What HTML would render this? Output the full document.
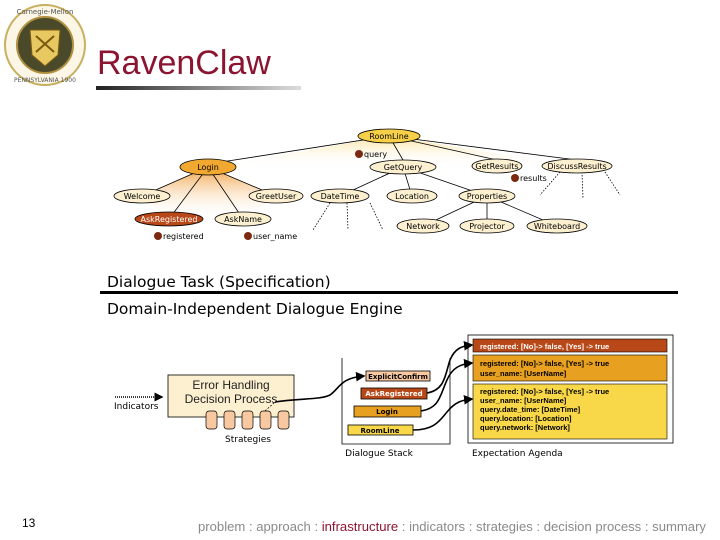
<!DOCTYPE html>
<html><head><meta charset="utf-8"><style>
html,body{margin:0;padding:0;background:#fff}
svg{display:block}
</style></head><body>
<svg width="720" height="540" viewBox="0 0 720 540" xmlns="http://www.w3.org/2000/svg" font-family="'DejaVu Sans', 'Liberation Sans', sans-serif">
<defs>
<linearGradient id="tl" x1="0" x2="1"><stop offset="0" stop-color="#222"/><stop offset="1" stop-color="#ddd"/></linearGradient>
<linearGradient id="fanO" x1="0" y1="0" x2="0" y2="1"><stop offset="0" stop-color="#f0a040"/><stop offset="1" stop-color="#fff" stop-opacity="0"/></linearGradient>
<linearGradient id="fanY" x1="0" y1="0" x2="0" y2="1"><stop offset="0" stop-color="#f8d060"/><stop offset="1" stop-color="#fff" stop-opacity="0"/></linearGradient>
<marker id="ah" markerWidth="6" markerHeight="6" refX="5" refY="3" orient="auto"><path d="M0,0 L6,3 L0,6z" fill="#000"/></marker>
</defs>
<!-- logo -->
<circle cx="45" cy="45" r="40" fill="#fbf6e6" stroke="#c8b060" stroke-width="2"/>
<circle cx="45" cy="45" r="28" fill="#4a4a2a" stroke="#b09040" stroke-width="2"/>
<path d="M30,30 L60,30 L58,55 L45,66 L32,55z" fill="#e8c860" stroke="#7a5a10"/>
<path d="M36,36 L54,52 M54,36 L36,52" stroke="#7a5a10" stroke-width="2"/>
<text x="45" y="14" font-size="7" text-anchor="middle" fill="#555">Carnegie-Mellon</text>
<text x="45" y="82" font-size="6" text-anchor="middle" fill="#555">PENNSYLVANIA 1900</text>
<!-- title -->
<text x="97" y="74" font-family="'Liberation Sans',sans-serif" font-size="34" fill="#8b1430">RavenClaw</text>
<rect x="96" y="86" width="205" height="4" fill="url(#tl)"/>
<!-- fans -->
<path d="M389,136 L215,167 L580,167z" fill="url(#fanY)" opacity="0.6"/>
<path d="M208,167 L142,196 L169,219 L243,219 L276,196z" fill="url(#fanO)"/>
<g stroke="#000" stroke-width="0.8" fill="none">
<line x1="389" y1="136" x2="215" y2="163"/>
<line x1="389" y1="136" x2="403" y2="160"/>
<line x1="389" y1="136" x2="497" y2="160"/>
<line x1="389" y1="136" x2="577" y2="160"/>
<line x1="208" y1="167" x2="142" y2="196"/>
<line x1="208" y1="167" x2="169" y2="219"/>
<line x1="208" y1="167" x2="243" y2="219"/>
<line x1="208" y1="167" x2="276" y2="196"/>
<line x1="403" y1="167" x2="340" y2="196"/>
<line x1="403" y1="167" x2="412" y2="196"/>
<line x1="403" y1="167" x2="487" y2="196"/>
<line x1="487" y1="196" x2="423" y2="226"/>
<line x1="487" y1="196" x2="487" y2="226"/>
<line x1="487" y1="196" x2="557" y2="226"/>
<g stroke-dasharray="1.5,1.5">
<line x1="330" y1="203" x2="313" y2="230"/><line x1="347" y1="203" x2="348" y2="230"/><line x1="370" y1="203" x2="383" y2="230"/>
<line x1="560" y1="172" x2="540" y2="195"/><line x1="582" y1="172" x2="583" y2="198"/><line x1="605" y1="172" x2="620" y2="195"/>
</g>
</g>
<g stroke="#000" stroke-width="0.8" font-size="8" text-anchor="middle">
<ellipse cx="389" cy="136" rx="31" ry="7" fill="#f8d048"/><text x="389" y="139" stroke="none">RoomLine</text>
<ellipse cx="208" cy="167" rx="28" ry="8" fill="#f0a830"/><text x="208" y="170" stroke="none">Login</text>
<ellipse cx="403" cy="167" rx="33" ry="7" fill="#fdf0d0"/><text x="403" y="170" stroke="none">GetQuery</text>
<ellipse cx="497" cy="166" rx="25" ry="7" fill="#fdf0d0"/><text x="497" y="169" stroke="none">GetResults</text>
<ellipse cx="577" cy="166" rx="35" ry="7" fill="#fdf0d0"/><text x="577" y="169" stroke="none">DiscussResults</text>
<ellipse cx="142" cy="196" rx="28" ry="7" fill="#fdf0d0"/><text x="142" y="199" stroke="none">Welcome</text>
<ellipse cx="276" cy="196" rx="27" ry="7" fill="#fdf0d0"/><text x="276" y="199" stroke="none">GreetUser</text>
<ellipse cx="340" cy="196" rx="29" ry="7" fill="#fdf0d0"/><text x="340" y="199" stroke="none">DateTime</text>
<ellipse cx="412" cy="196" rx="25" ry="7" fill="#fdf0d0"/><text x="412" y="199" stroke="none">Location</text>
<ellipse cx="487" cy="196" rx="28" ry="7" fill="#fdf0d0"/><text x="487" y="199" stroke="none">Properties</text>
<ellipse cx="169" cy="219" rx="34" ry="7" fill="#b84818"/><text x="169" y="222" stroke="none" fill="#fff">AskRegistered</text>
<ellipse cx="243" cy="219" rx="28" ry="7" fill="#fdf0d0"/><text x="243" y="222" stroke="none">AskName</text>
<ellipse cx="423" cy="226" rx="26" ry="7" fill="#fdf0d0"/><text x="423" y="229" stroke="none">Network</text>
<ellipse cx="487" cy="226" rx="27" ry="7" fill="#fdf0d0"/><text x="487" y="229" stroke="none">Projector</text>
<ellipse cx="557" cy="226" rx="30" ry="7" fill="#fdf0d0"/><text x="557" y="229" stroke="none">Whiteboard</text>
</g>
<g fill="#7a2a10" font-size="8">
<circle cx="359" cy="154" r="4"/><text x="364" y="157" fill="#000">query</text>
<circle cx="515" cy="178" r="4"/><text x="520" y="181" fill="#000">results</text>
<circle cx="158" cy="236" r="4"/><text x="163" y="239" fill="#000">registered</text>
<circle cx="248" cy="236" r="4"/><text x="253" y="239" fill="#000">user_name</text>
</g>
<!-- section labels -->
<text x="107" y="287" font-size="15.5">Dialogue Task (Specification)</text>
<rect x="100" y="291" width="578" height="3" fill="#000"/>
<text x="107" y="314" font-size="15.5">Domain-Independent Dialogue Engine</text>
<!-- error handling -->
<line x1="115" y1="397" x2="162" y2="397" stroke="#000" stroke-dasharray="1,1" stroke-width="1.5" marker-end="url(#ah)"/>
<text x="114" y="409" font-size="9">Indicators</text>
<rect x="168" y="375" width="126" height="42" fill="#fdf0d0" stroke="#000" stroke-width="0.8"/>
<text x="231" y="389" font-size="12" text-anchor="middle" fill="#222" font-family="'Liberation Sans',sans-serif">Error Handling</text>
<text x="231" y="403" font-size="12" text-anchor="middle" fill="#222" font-family="'Liberation Sans',sans-serif">Decision Process</text>
<g fill="#f8c8a0" stroke="#000" stroke-width="0.7">
<rect x="206" y="411" width="11" height="18" rx="3"/><rect x="224" y="411" width="11" height="18" rx="3"/><rect x="242" y="411" width="11" height="18" rx="3"/><rect x="260" y="411" width="11" height="18" rx="3"/><rect x="278" y="411" width="11" height="18" rx="3"/>
</g>
<text x="248" y="442" font-size="9" text-anchor="middle">Strategies</text>
<path d="M265,411 L275,402" stroke="#000" stroke-dasharray="2,1.5" stroke-width="0.7" fill="none"/>
<path d="M275,402 C300,398 320,400 330,395 C340,388 340,378 364,376" stroke="#000" stroke-width="1.6" fill="none" marker-end="url(#ah)"/>
<!-- dialogue stack -->
<path d="M342,358 L342,444 L450,444 L450,358" stroke="#000" stroke-width="0.8" fill="none"/>
<g stroke="#000" stroke-width="0.8" font-size="7" font-weight="bold" text-anchor="middle">
<rect x="366" y="371" width="64" height="10" fill="#f8c8a0"/><text x="398" y="379" stroke="none">ExplicitConfirm</text>
<rect x="361" y="388" width="66" height="11" fill="#b84818"/><text x="394" y="396" stroke="none" fill="#fff">AskRegistered</text>
<rect x="354" y="406" width="67" height="11" fill="#e8a020"/><text x="387" y="414" stroke="none">Login</text>
<rect x="348" y="425" width="65" height="10" fill="#f8d848"/><text x="380" y="433" stroke="none">RoomLine</text>
</g>
<text x="379" y="456" font-size="9" text-anchor="middle">Dialogue Stack</text>
<!-- expectation agenda -->
<rect x="468" y="335" width="205" height="108" fill="#fff" stroke="#000" stroke-width="0.8"/>
<g stroke="#000" stroke-width="0.6">
<rect x="473" y="339" width="194" height="13" fill="#b84818"/>
<rect x="473" y="355" width="194" height="26" fill="#e8a020"/>
<rect x="473" y="384" width="194" height="55" fill="#f8d848"/>
</g>
<g font-size="7.5" font-weight="bold" font-family="'Liberation Sans Narrow','Liberation Sans',sans-serif">
<text x="480" y="349" fill="#fff">registered: [No]-&gt; false, [Yes] -&gt; true</text>
<text x="480" y="366">registered: [No]-&gt; false, [Yes] -&gt; true</text>
<text x="480" y="376">user_name: [UserName]</text>
<text x="480" y="394">registered: [No]-&gt; false, [Yes] -&gt; true</text>
<text x="480" y="403">user_name: [UserName]</text>
<text x="480" y="412">query.date_time: [DateTime]</text>
<text x="480" y="421">query.location: [Location]</text>
<text x="480" y="430">query.network: [Network]</text>
</g>
<text x="472" y="456" font-size="9">Expectation Agenda</text>
<!-- connectors -->
<g stroke="#000" stroke-width="1.6" fill="none" marker-end="url(#ah)">
<path d="M427,393 C445,390 445,375 450,360 C455,348 462,346 472,345"/>
<path d="M421,411 C440,408 440,395 447,380 C452,368 460,364 472,363"/>
<path d="M413,430 C435,430 440,420 447,412 C455,402 462,400 472,399"/>
</g>
<!-- footer -->
<text x="22" y="527" font-size="12" font-family="'Liberation Sans',sans-serif">13</text>
<text x="198" y="531" font-size="13.1" font-family="'Liberation Sans',sans-serif" fill="#8a8a8a">problem : approach : <tspan fill="#8b1430">infrastructure</tspan> : indicators : strategies : decision process : summary</text>
</svg>
</body></html>
